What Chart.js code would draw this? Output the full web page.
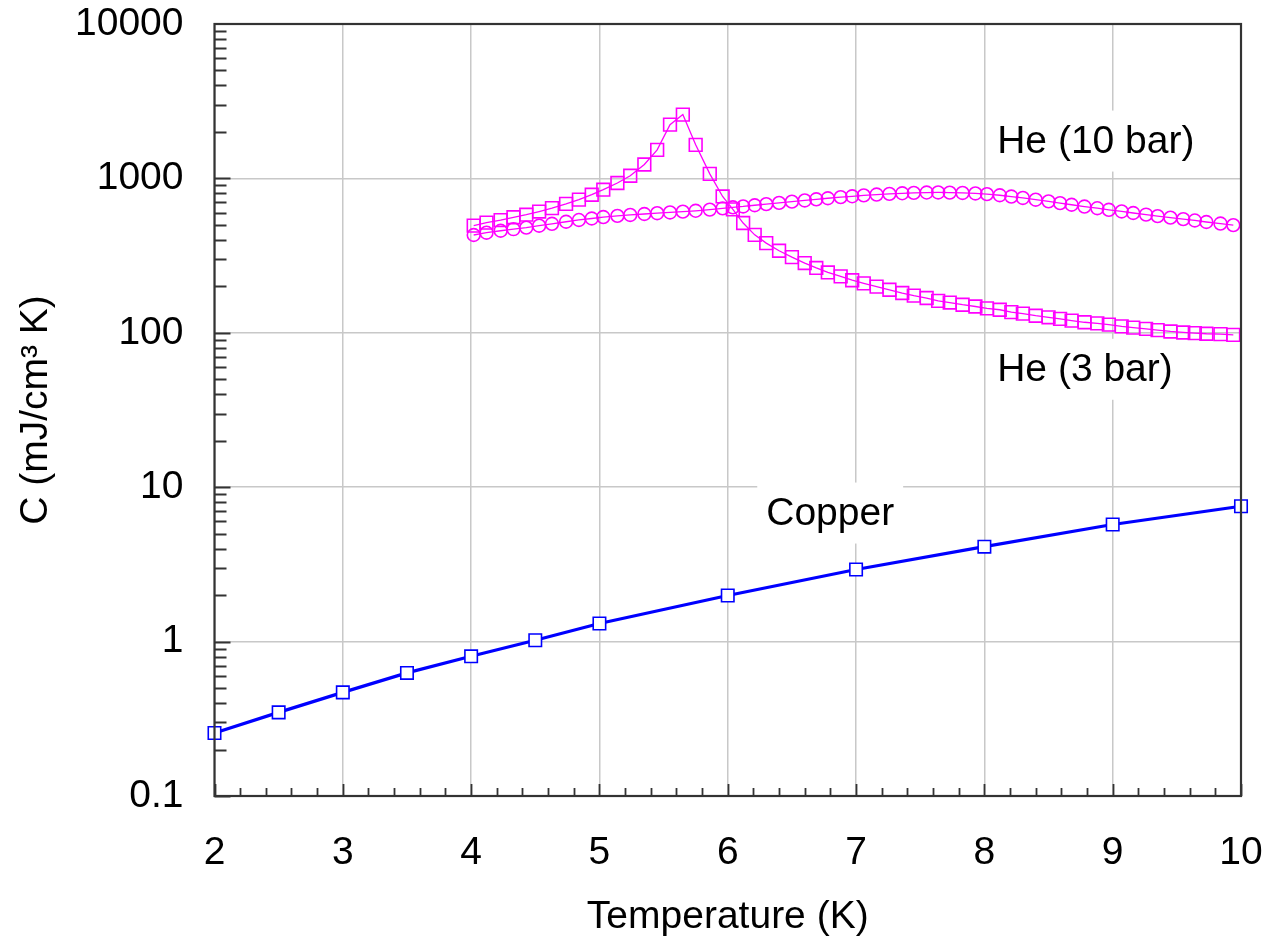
<!DOCTYPE html>
<html>
<head>
<meta charset="utf-8">
<script src="https://cdn.jsdelivr.net/npm/chart.js@4/dist/chart.umd.min.js"></script>
<style>
  html, body { margin: 0; padding: 0; background: #fff; }
  canvas { display: block; }
</style>
</head>
<body>
<canvas id="chart" width="1266" height="942"></canvas>
<script>
// Copper (blue squares, solid line)
const copperTemps = [2, 2.5, 3, 3.5, 4, 4.5, 5, 6, 7, 8, 9, 10];
const copperHeat = [0.256, 0.348, 0.469, 0.627, 0.803, 1.02, 1.31, 1.99, 2.93, 4.12, 5.73, 7.53];

// Helium, both pressures sampled at the same temperatures
const heTemps = [
  4.02, 4.12, 4.23, 4.33, 4.43, 4.53, 4.63, 4.74, 4.84, 4.94,
  5.03, 5.14, 5.24, 5.35, 5.45, 5.55, 5.65, 5.75, 5.86, 5.96,
  6.04, 6.12, 6.21, 6.30, 6.40, 6.50, 6.60, 6.69, 6.78, 6.88,
  6.97, 7.06, 7.16, 7.26, 7.36, 7.45, 7.55, 7.64, 7.73, 7.83,
  7.93, 8.02, 8.12, 8.21, 8.30, 8.40, 8.50, 8.59, 8.68, 8.78,
  8.88, 8.97, 9.07, 9.16, 9.26, 9.35, 9.45, 9.55, 9.64, 9.73,
  9.84, 9.94
];
const he3barHeat = [
  494, 517, 537, 560, 582, 610, 642, 684, 728, 784,
  845, 934, 1040, 1230, 1530, 2230, 2590, 1650, 1070, 764,
  630, 514, 431, 381, 340, 309, 283, 263, 246, 232,
  219, 209, 199, 190, 181, 174, 168, 161, 157, 152,
  148, 144, 141, 136, 133, 129, 126, 123, 120, 117,
  115, 113, 110, 108, 106, 104, 102, 100.5, 99.5, 98.6,
  98, 97
];
const he10barHeat = [
  430, 445, 458, 469, 480, 494, 508, 524, 538, 550,
  562, 572, 580, 588, 595, 602, 609, 617, 628, 640,
  650, 658, 670, 681, 694, 707, 720, 732, 744, 756,
  766, 776, 786, 794, 801, 806, 810, 811, 809, 805,
  799, 791, 778, 763, 747, 728, 710, 692, 675, 657,
  641, 626, 611, 597, 583, 570, 557, 545, 534, 522,
  510, 498
];

// Axis ticks
const xTickValues = [2, 3, 4, 5, 6, 7, 8, 9, 10];
const yTickValues = [0.1, 1, 10, 100, 1000, 10000];

// Curve labels: [text, temperature at left edge, value at baseline]
const curveLabels = [
  ['He (10 bar)', 8.10, 1470],
  ['He (3 bar)', 8.10, 48.9],
  ['Copper', 6.30, 5.73]
];

const FONT = "'Liberation Sans', Arial, sans-serif";
const FONT_SIZE = 39;

const toPoints = (xs, ys) => xs.map((x, i) => ({ x: x, y: ys[i] }));

// keep tick label overflow from pushing the plot area inward
const noOverflow = (scale) => {
  scale.paddingTop = 0;
  scale.paddingBottom = 0;
  scale.paddingLeft = 0;
  scale.paddingRight = 0;
};

// white-boxed labels over the grid, frame and inward ticks on top
const decorPlugin = {
  id: 'decor',
  beforeDatasetsDraw(chart) {
    const { ctx, scales: { x, y } } = chart;
    ctx.save();
    ctx.font = FONT_SIZE + 'px ' + FONT;
    ctx.textBaseline = 'alphabetic';
    ctx.textAlign = 'left';
    curveLabels.forEach(([text, t, c]) => {
      const px = x.getPixelForValue(t);
      const py = y.getPixelForValue(c);
      const w = ctx.measureText(text).width;
      ctx.fillStyle = '#ffffff';
      ctx.fillRect(px - 9, py - 42, w + 18, 61);
      ctx.fillStyle = '#000000';
      ctx.fillText(text, px, py);
    });
    ctx.restore();
  },
  afterDraw(chart) {
    const { ctx, chartArea: a, scales: { x, y } } = chart;
    ctx.save();
    ctx.strokeStyle = '#333333';
    ctx.lineWidth = 1.8;
    ctx.beginPath();
    // bottom axis ticks (every 0.2 K)
    for (let i = 0; i <= 40; i++) {
      const t = 2 + i * 0.2;
      const px = Math.round(x.getPixelForValue(t)) + 0.5;
      const len = i % 5 === 0 ? 12 : 8;
      ctx.moveTo(px, a.bottom);
      ctx.lineTo(px, a.bottom - len);
    }
    // left axis ticks (log minors)
    for (let d = 0.1; d < 10000; d *= 10) {
      for (let k = 1; k <= 9; k++) {
        const py = Math.round(y.getPixelForValue(d * k)) + 0.5;
        const len = k === 1 ? 16 : 12;
        ctx.moveTo(a.left, py);
        ctx.lineTo(a.left + len, py);
      }
    }
    ctx.stroke();
    ctx.lineWidth = 2.2;
    ctx.strokeRect(a.left, a.top, a.right - a.left, a.bottom - a.top);
    ctx.restore();
  }
};

new Chart(document.getElementById('chart'), {
  type: 'line',
  data: {
    datasets: [
      {
        label: 'Copper',
        data: toPoints(copperTemps, copperHeat),
        borderColor: '#0000ff',
        borderWidth: 3.2,
        pointStyle: 'rect',
        pointRadius: 8.8,
        pointBorderWidth: 1.6,
        pointBorderColor: '#0000ff',
        pointBackgroundColor: '#ffffff',
        fill: false
      },
      {
        label: 'He (3 bar)',
        data: toPoints(heTemps, he3barHeat),
        borderColor: '#ff00ff',
        borderWidth: 1.3,
        pointStyle: 'rect',
        pointRadius: 9,
        pointBorderWidth: 1.6,
        pointBorderColor: '#ff00ff',
        pointBackgroundColor: 'rgba(0,0,0,0)',
        fill: false
      },
      {
        label: 'He (10 bar)',
        data: toPoints(heTemps, he10barHeat),
        borderColor: '#ff00ff',
        borderWidth: 1.3,
        pointStyle: 'circle',
        pointRadius: 6.4,
        pointBorderWidth: 1.6,
        pointBorderColor: '#ff00ff',
        pointBackgroundColor: 'rgba(0,0,0,0)',
        fill: false
      }
    ]
  },
  options: {
    responsive: false,
    animation: false,
    clip: false,
    layout: { padding: { left: 0, top: 24, right: 25, bottom: 0 } },
    plugins: {
      legend: { display: false },
      tooltip: { enabled: false }
    },
    scales: {
      x: {
        type: 'linear',
        min: 2,
        max: 10,
        afterBuildTicks: (scale) => { scale.ticks = xTickValues.map(v => ({ value: v })); },
        afterFit: (scale) => { scale.height = 146; noOverflow(scale); },
        grid: { color: '#c8c8c8', lineWidth: 1.5, drawTicks: false },
        border: { display: false },
        ticks: {
          padding: 34,
          color: '#000',
          font: { family: FONT, size: FONT_SIZE },
          callback: (v) => String(v)
        },
        title: {
          display: true,
          text: 'Temperature (K)',
          color: '#000',
          font: { family: FONT, size: FONT_SIZE },
          padding: { top: 0, bottom: 1 }
        }
      },
      y: {
        type: 'logarithmic',
        min: 0.1,
        max: 10000,
        afterBuildTicks: (scale) => { scale.ticks = yTickValues.map(v => ({ value: v })); },
        afterFit: (scale) => { scale.width = 214.5; noOverflow(scale); },
        grid: { color: '#c8c8c8', lineWidth: 1.5, drawTicks: false },
        border: { display: false },
        ticks: {
          padding: 31,
          color: '#000',
          font: { family: FONT, size: FONT_SIZE },
          callback: (v) => String(v)
        },
        title: {
          display: true,
          text: 'C (mJ/cm³ K)',
          color: '#000',
          font: { family: FONT, size: FONT_SIZE },
          padding: { top: 13, bottom: 0 }
        }
      }
    }
  },
  plugins: [decorPlugin]
});
</script>
</body>
</html>
